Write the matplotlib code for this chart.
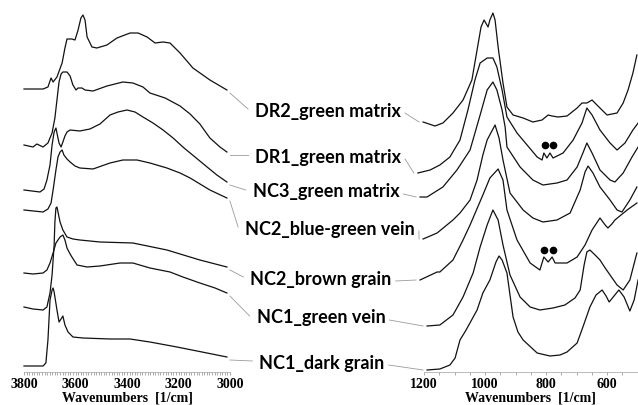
import matplotlib
matplotlib.use("Agg")
import matplotlib.pyplot as plt
from matplotlib.lines import Line2D
from matplotlib.ticker import MultipleLocator

# sample names, top to bottom
names = ['DR2_green matrix', 'DR1_green matrix', 'NC3_green matrix', 'NC2_blue-green vein',
         'NC2_brown grain', 'NC1_green vein', 'NC1_dark grain']

# ---- O-H stretching region (stacked absorbance, arb. units) ----
dr2_oh_wn = [3800, 3726, 3707, 3695, 3687, 3672, 3652, 3641, 3633, 3614, 3602, 3590, 3579, 3571, 3563, 3555,
             3536, 3517, 3478, 3439, 3388, 3357, 3322, 3291, 3260, 3233, 3194, 3144, 3078, 3012]
dr2_oh_a = [283, 283, 285, 294, 290, 295, 309, 324, 333, 333, 332, 342, 354, 357, 352, 335,
            325, 324, 327, 334, 339, 339, 335, 329, 330, 329, 319, 304, 292, 282]

dr1_oh_wn = [3800, 3765, 3750, 3726, 3707, 3691, 3680, 3672, 3664, 3656, 3649, 3633, 3621, 3610, 3598, 3590,
             3575, 3563, 3532, 3478, 3416, 3377, 3338, 3311, 3252, 3194, 3155, 3117, 3078, 3039, 3012]
dr1_oh_a = [227, 225, 228, 225, 229, 239, 254, 272, 290, 298, 300, 300, 296, 287, 282, 284,
            284, 282, 281, 286, 290, 289, 285, 279, 274, 266, 258, 248, 234, 225, 220]

nc3_oh_wn = [3800, 3738, 3722, 3711, 3699, 3691, 3683, 3676, 3672, 3664, 3656, 3649, 3641, 3633, 3621, 3583,
             3544, 3505, 3466, 3435, 3400, 3369, 3338, 3299, 3260, 3221, 3183, 3136, 3089, 3051, 3012]
nc3_oh_a = [182, 180, 183, 192, 207, 227, 240, 244, 239, 229, 225, 230, 236, 240, 242, 241,
            243, 248, 257, 260, 262, 260, 255, 249, 242, 234, 225, 215, 205, 197, 190]

nc2bg_oh_wn = [3800, 3726, 3707, 3695, 3687, 3676, 3668, 3660, 3652, 3645, 3633, 3621, 3602, 3583, 3532,
               3466, 3416, 3361, 3311, 3245, 3194, 3155, 3078, 3012]
nc2bg_oh_a = [162, 160, 163, 169, 182, 202, 215, 220, 222, 217, 213, 210, 206, 204, 203,
              209, 212, 212, 209, 204, 199, 194, 182, 174]

nc2br_oh_wn = [3800, 3765, 3726, 3711, 3699, 3691, 3683, 3680, 3676, 3672, 3668, 3660, 3649, 3633, 3610,
               3583, 3505, 3377, 3245, 3117, 3012]
nc2br_oh_a = [65, 63, 62, 65, 79, 97, 127, 150, 164, 165, 160, 150, 142, 135, 133,
              132, 130, 129, 122, 112, 105]

nc1gv_oh_wn = [3800, 3765, 3726, 3711, 3699, 3687, 3676, 3660, 3649, 3641, 3633, 3621, 3614, 3594, 3555,
               3505, 3427, 3377, 3311, 3233, 3183, 3117, 3058, 3012]
nc1gv_oh_a = [99, 98, 99, 102, 109, 119, 129, 135, 137, 132, 124, 118, 115, 107, 105,
              106, 109, 109, 104, 100, 95, 89, 84, 79]

nc1dg_oh_wn = [3800, 3726, 3715, 3707, 3699, 3691, 3687, 3683, 3672, 3664, 3656, 3649, 3641, 3629, 3610,
               3571, 3466, 3388, 3311, 3206, 3128, 3012]
nc1dg_oh_a = [6, 6, 9, 32, 72, 82, 84, 80, 62, 50, 53, 56, 47, 40, 35,
              34, 33, 33, 30, 25, 21, 15]

# ---- Si-O region ----
dr2_si_wn = [1203, 1164, 1138, 1105, 1072, 1043, 1026, 1013, 1003, 990, 984, 974, 967, 957, 941, 928, 908,
             875, 843, 813, 793, 780, 761, 731, 698, 682, 666, 649, 633, 600, 567, 547, 531, 515, 502]
dr2_si_a = [250, 246, 249, 259, 272, 292, 322, 345, 352, 345, 352, 359, 352, 325, 289, 265, 257,
            254, 250, 252, 257, 256, 255, 256, 264, 269, 269, 272, 267, 257, 259, 269, 282, 299, 317]

dr1_si_wn = [1220, 1180, 1148, 1115, 1082, 1056, 1033, 1016, 993, 974, 961, 944, 928, 895, 862, 829, 813,
             807, 797, 787, 777, 744, 711, 682, 666, 649, 623, 590, 567, 541, 515, 498]
dr1_si_a = [199, 202, 207, 215, 232, 262, 292, 309, 314, 314, 305, 282, 255, 239, 227, 215, 212,
            219, 214, 219, 214, 219, 232, 249, 264, 257, 242, 229, 222, 229, 242, 249]

nc3_si_wn = [1213, 1190, 1138, 1092, 1049, 1016, 993, 974, 961, 944, 934, 928, 885, 843, 810, 764, 731,
             698, 679, 666, 649, 623, 590, 574, 547, 518, 498]
nc3_si_a = [175, 175, 185, 202, 222, 257, 282, 290, 282, 262, 245, 225, 205, 192, 187, 189, 192,
            205, 219, 229, 219, 202, 192, 190, 199, 215, 225]

nc2bg_si_wn = [1203, 1157, 1105, 1082, 1049, 1026, 1007, 993, 967, 954, 941, 918, 875, 843, 810, 764, 721,
               688, 672, 662, 646, 623, 590, 567, 551, 525, 502]
nc2bg_si_a = [133, 139, 152, 159, 172, 192, 217, 232, 247, 234, 212, 179, 162, 154, 150, 152, 159,
              182, 200, 206, 199, 185, 172, 162, 160, 172, 185]

nc2br_si_wn = [1213, 1157, 1148, 1105, 1072, 1049, 1007, 984, 957, 941, 928, 895, 852, 820, 807, 793, 780,
               770, 731, 698, 672, 649, 623, 606, 597, 584, 574, 534, 502]
nc2br_si_a = [92, 100, 100, 112, 132, 147, 177, 194, 203, 192, 162, 132, 109, 102, 115, 110, 115,
              109, 109, 115, 127, 142, 154, 147, 144, 148, 152, 162, 169]

nc1gv_si_wn = [1190, 1148, 1105, 1072, 1039, 1016, 993, 974, 957, 941, 918, 885, 852, 820, 777, 738, 705,
               688, 675, 666, 656, 639, 623, 606, 590, 567, 547, 525, 502]
nc1gv_si_a = [46, 47, 57, 75, 99, 125, 147, 162, 152, 127, 97, 75, 65, 62, 64, 67, 74,
              82, 107, 120, 122, 117, 112, 104, 97, 87, 82, 92, 119]

nc1dg_si_wn = [1190, 1148, 1115, 1098, 1082, 1062, 1026, 1007, 984, 964, 954, 944, 928, 918, 908, 892, 875,
               829, 787, 754, 731, 698, 679, 656, 636, 616, 603, 593, 577, 561, 544, 525, 511, 498]
nc1dg_si_a = [2, 3, 7, 14, 32, 42, 62, 79, 92, 110, 116, 112, 99, 77, 55, 40, 32,
              19, 16, 17, 20, 29, 45, 65, 77, 82, 76, 70, 76, 82, 75, 61, 72, 92]

# marked doublets (the two dots above the ~800/780 bands)
dots_wn = [803, 777, 805, 777]
dots_a = [227, 227, 122, 122]

oh_traces = [(dr2_oh_wn, dr2_oh_a), (dr1_oh_wn, dr1_oh_a), (nc3_oh_wn, nc3_oh_a), (nc2bg_oh_wn, nc2bg_oh_a),
             (nc2br_oh_wn, nc2br_oh_a), (nc1gv_oh_wn, nc1gv_oh_a), (nc1dg_oh_wn, nc1dg_oh_a)]
si_traces = [(dr2_si_wn, dr2_si_a), (dr1_si_wn, dr1_si_a), (nc3_si_wn, nc3_si_a), (nc2bg_si_wn, nc2bg_si_a),
             (nc2br_si_wn, nc2br_si_a), (nc1gv_si_wn, nc1gv_si_a), (nc1dg_si_wn, nc1dg_si_a)]

# label placement in figure pixels (centre x, centre y from top)
label_x = [328, 328, 326, 330, 321, 321, 322]
label_y = [111, 157, 192, 229, 279, 318, 363]

W, H = 638, 405
fig = plt.figure(figsize=(W / 100, H / 100), dpi=100)

ax1 = fig.add_axes([24 / W, 33 / H, 206 / W, 372 / H])
ax2 = fig.add_axes([424 / W, 33 / H, 213.5 / W, 372 / H])

tickfont = dict(family='Liberation Serif', weight='bold', size=10)

for ax, traces, lims, minor in [(ax1, oh_traces, (3800, 3000), 10), (ax2, si_traces, (1200, 500), 50)]:
    for wn, a in traces:
        ax.plot(wn, a, color='#111111', lw=0.9, clip_on=False, solid_joinstyle='round')
    ax.set_xlim(*lims)
    ax.set_ylim(0, 372)
    for s in ['top', 'left', 'right']:
        ax.spines[s].set_visible(False)
    ax.spines['bottom'].set_color('#b0b0b0')
    ax.spines['bottom'].set_linewidth(0.6)
    ax.set_yticks([])
    ax.xaxis.set_major_locator(MultipleLocator(200))
    ax.xaxis.set_minor_locator(MultipleLocator(minor))
    ax.tick_params(axis='x', which='both', length=2.5, width=0.5, color='#888888', pad=2)
    for t in ax.get_xticklabels():
        t.set_fontproperties(matplotlib.font_manager.FontProperties(**tickfont))
    ax.set_xlabel('Wavenumbers  [1/cm]', fontdict=tickfont, labelpad=0)
    ax.patch.set_alpha(0)

ax2.plot(dots_wn, dots_a, 'o', color='black', ms=4.5, clip_on=False)

texts = []
for name, x, y in zip(names, label_x, label_y):
    texts.append(fig.text(x / W, 1 - y / H, name, ha='center', va='center',
                          family='Lato', weight='bold', size=13))

fig.canvas.draw()
r = fig.canvas.get_renderer()
grey = '#9a9a9a'
for t, (wn1, a1), (wn2, a2) in zip(texts, oh_traces, si_traces):
    bb = t.get_window_extent(r)
    cy = (bb.y0 + bb.y1) / 2
    ex, ey = ax1.transData.transform((wn1[-1], a1[-1]))
    fig.add_artist(Line2D([ex + 3, bb.x0 - 7], [ey - 3, cy + 2], transform=None, color=grey, lw=0.6))
    sx, sy = ax2.transData.transform((wn2[0], a2[0]))
    fig.add_artist(Line2D([bb.x1 + 4, sx - 4], [cy - 2, sy], transform=None, color=grey, lw=0.6))

fig.savefig('out.png', dpi=100)
